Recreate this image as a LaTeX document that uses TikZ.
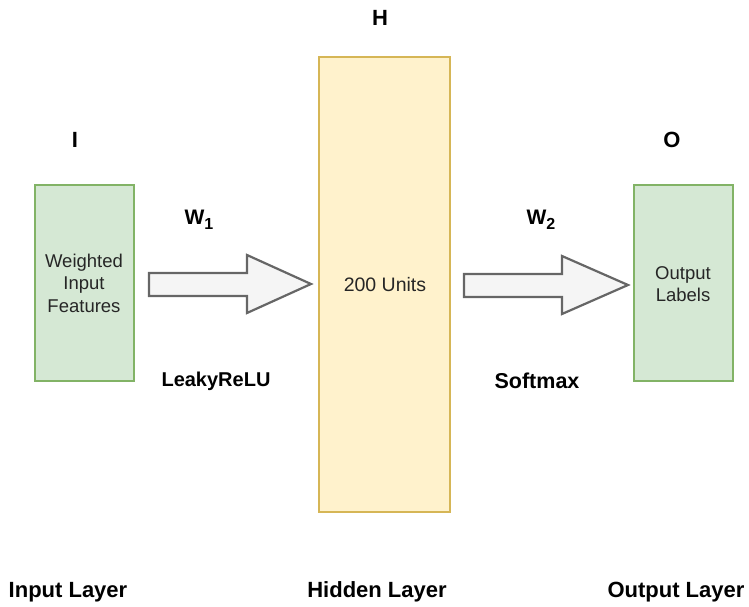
\documentclass[tikz,border=0pt]{standalone}
\usepackage{fontspec}
\setmainfont{Liberation Sans}
\begin{document}
\begin{tikzpicture}[x=1pt,y=-1pt,
  greenbox/.style={draw={rgb,255:red,130;green,179;blue,102}, fill={rgb,255:red,213;green,232;blue,212}, line width=2.8pt},
  yellowbox/.style={draw={rgb,255:red,214;green,182;blue,86}, fill={rgb,255:red,255;green,242;blue,204}, line width=2.8pt},
  blockarrow/.style={draw={rgb,255:red,102;green,102;blue,102}, fill={rgb,255:red,245;green,245;blue,245}, line width=2.2pt, line join=miter},
  head/.style={font=\fontsize{22}{26}\selectfont\bfseries, inner sep=0pt},
  wlabel/.style={font=\fontsize{20}{24}\selectfont\bfseries, inner sep=0pt},
  boxtext/.style={font=\fontsize{18.5}{22.5}\selectfont, align=center, inner sep=0pt, text=black!85}
]
\useasboundingbox (0,0) rectangle (749,607);
% boxes
\draw[greenbox] (35,185) rectangle (134,381);
\draw[yellowbox] (319,57) rectangle (450,512);
\draw[greenbox] (634,185) rectangle (733,381);
% block arrows
\draw[blockarrow] (149,273) -- (247,273) -- (247,255) -- (311,284) -- (247,313) -- (247,296) -- (149,296) -- cycle;
\draw[blockarrow] (464,274) -- (562,274) -- (562,256) -- (628,285) -- (562,314) -- (562,297) -- (464,297) -- cycle;
% box texts
\node[boxtext] (inp) at (84,283) {Weighted\\Input\\Features};
\node[boxtext, font=\fontsize{19.5}{22.5}\selectfont] (hid) at (385,285) {200 Units};
\node[boxtext] (outp) at (683,284) {Output\\Labels};
% headers
\node[head] (I) at (75,140) {I};
\node[head] (H) at (380,18) {H};
\node[head] (O) at (672,140) {O};
% weights
\node[wlabel, font=\fontsize{21}{24}\selectfont\bfseries] (w1) at (199,220) {W\raisebox{-5pt}{\fontsize{16}{16}\selectfont 1}};
\node[wlabel, font=\fontsize{21}{24}\selectfont\bfseries] (w2) at (541,220) {W\raisebox{-5pt}{\fontsize{16}{16}\selectfont 2}};
% activations
\node[wlabel] (lr) at (216,381) {LeakyReLU};
\node[wlabel, font=\fontsize{21.5}{24}\selectfont\bfseries] (sm) at (537,381) {Softmax};
% bottom labels
\node[head] (il) at (68,592) {Input Layer};
\node[head] (hl) at (377,592) {Hidden Layer};
\node[head] (ol) at (676,592) {Output Layer};
\end{tikzpicture}
\end{document}
